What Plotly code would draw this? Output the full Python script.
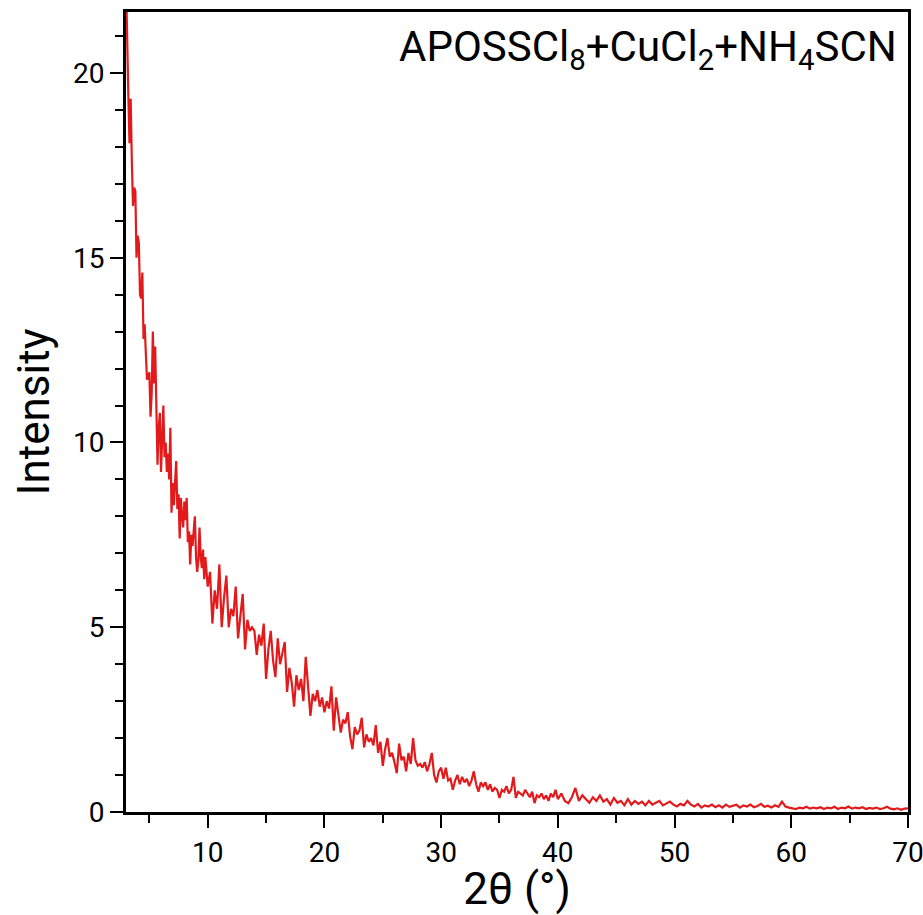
import numpy as np
import plotly.graph_objects as go

# Segment 1: 2theta 3.0 .. 9.9 (step 0.1)
y_seg1 = [22.5, 20.6, 19.4, 18.1, 19.3, 17.6, 16.4, 16.9, 16.8, 15.0,
          15.6, 15.4, 14.0, 13.9, 14.6, 12.8, 13.2, 12.4, 11.7, 11.8,
          11.9, 10.7, 11.3, 13.0, 11.6, 12.6, 11.2, 9.4, 10.4, 10.8,
          9.2, 10.2, 11.0, 9.6, 10.0, 9.2, 9.7, 9.0, 10.4, 8.1,
          8.9, 8.3, 9.0, 9.5, 8.2, 8.6, 7.4, 8.5, 8.0, 7.7,
          8.4, 7.9, 8.5, 7.3, 7.6, 6.7, 7.5, 7.2, 7.6, 8.0,
          6.9, 6.5, 6.8, 7.7, 6.9, 6.6, 7.1, 6.3, 6.9, 6.5]

# Segment 2: 2theta 10.0 .. 39.8 (step 0.2)
y_seg2 = [6.1, 6.5, 5.1, 6.0, 5.5, 6.7, 5.0, 5.8, 6.4, 5.0,
          5.5, 5.3, 6.1, 4.7, 5.4, 5.9, 4.4, 5.2, 4.9, 5.0,
          4.9, 4.25, 4.8, 4.5, 5.1, 3.6, 4.4, 4.9, 4.1, 3.65,
          4.7, 4.0, 4.3, 4.6, 3.25, 3.9, 3.5, 2.85, 3.7, 3.3,
          3.6, 3.0, 4.2, 3.4, 2.6, 3.2, 3.0, 3.3, 2.85, 3.1,
          2.7, 3.0, 2.8, 3.4, 2.2, 3.1, 2.6, 2.15, 2.5, 2.4,
          2.7, 2.05, 1.7, 2.3, 2.1, 2.2, 2.55, 1.75, 2.1, 1.9,
          2.0, 1.8, 2.35, 1.6, 1.9, 1.25, 1.7, 2.0, 1.5, 1.6,
          1.35, 1.05, 1.85, 1.4, 1.5, 1.1, 1.6, 1.3, 2.0, 1.4,
          1.25, 1.3, 1.2, 1.35, 1.1, 1.3, 1.6, 1.0, 0.8, 1.1,
          1.2, 0.9, 1.2, 0.85, 0.9, 0.6, 0.85, 1.0, 0.75, 0.95,
          0.8, 0.9, 0.7, 0.85, 1.1, 0.75, 0.55, 0.8, 0.7, 0.8,
          0.6, 0.75, 0.55, 0.65, 0.6, 0.38, 0.6, 0.55, 0.7, 0.5,
          0.6, 0.95, 0.38, 0.55, 0.5, 0.45, 0.6, 0.5, 0.4, 0.55,
          0.24, 0.45, 0.4, 0.5, 0.35, 0.45, 0.3, 0.5, 0.4, 0.6]

# Segment 3: 2theta 40.0 .. 70.0 (step 0.3)
y_seg3 = [0.35, 0.5, 0.3, 0.24, 0.4, 0.65, 0.3, 0.45, 0.35, 0.25,
          0.4, 0.3, 0.45, 0.28, 0.35, 0.2, 0.38, 0.25, 0.3, 0.18,
          0.35, 0.2, 0.3, 0.22, 0.28, 0.18, 0.3, 0.2, 0.25, 0.3,
          0.18, 0.22, 0.28, 0.2, 0.15, 0.22, 0.18, 0.3, 0.2, 0.15,
          0.22, 0.12, 0.18, 0.15, 0.2, 0.13, 0.18, 0.12, 0.2, 0.14,
          0.17, 0.2, 0.12, 0.18, 0.15, 0.2, 0.13, 0.16, 0.22, 0.14,
          0.17, 0.12, 0.18, 0.14, 0.28, 0.15, 0.12, 0.1, 0.08, 0.12,
          0.1, 0.14, 0.09, 0.12, 0.1, 0.13, 0.08, 0.12, 0.1, 0.14,
          0.08, 0.12, 0.1, 0.15, 0.09, 0.12, 0.1, 0.13, 0.08, 0.11,
          0.09, 0.12, 0.08, 0.1, 0.14, 0.09, 0.07, 0.1, 0.06, 0.09,
          0.1]

x_seg1 = np.linspace(3.0, 9.9, len(y_seg1))
x_seg2 = np.linspace(10.0, 39.8, len(y_seg2))
x_seg3 = np.linspace(40.0, 70.0, len(y_seg3))

two_theta = np.concatenate([x_seg1, x_seg2, x_seg3])
intensity = y_seg1 + y_seg2 + y_seg3

x_ticks = [10, 20, 30, 40, 50, 60, 70]
y_ticks = [0, 5, 10, 15, 20]
label = "APOSSCl<sub>8</sub>+CuCl<sub>2</sub>+NH<sub>4</sub>SCN"

fig = go.Figure()
fig.add_trace(go.Scatter(x=two_theta, y=intensity, mode="lines",
                         line=dict(color="#e31a1c", width=2.2),
                         showlegend=False, hoverinfo="skip"))

axis_common = dict(showline=True, linecolor="black", linewidth=3, mirror=True,
                   ticks="outside", ticklen=13, tickwidth=2.2, tickcolor="black",
                   showgrid=False, zeroline=False, automargin=False,
                   ticklabeloverflow="allow",
                   tickfont=dict(family="Roboto", size=28, color="black"))

fig.update_xaxes(range=[3, 70], tickvals=x_ticks,
                 minor=dict(dtick=5, tick0=0, ticklen=8, tickwidth=2.2, ticks="outside", tickcolor="black"),
                 title=dict(text="2θ (°)", font=dict(family="Roboto", size=44, color="black"), standoff=4),
                 **axis_common)
fig.update_yaxes(range=[0, 21.65], tickvals=y_ticks,
                 minor=dict(dtick=1, tick0=0, ticklen=8, tickwidth=2.2, ticks="outside", tickcolor="black"),
                 title=dict(text="Intensity", font=dict(family="Roboto", size=44, color="black"), standoff=10),
                 **axis_common)

fig.add_annotation(text=label, xref="paper", yref="paper", x=0.988, y=0.99,
                   xanchor="right", yanchor="top", showarrow=False,
                   font=dict(family="Roboto", size=42, color="black"))

fig.update_layout(width=923, height=915, margin=dict(l=126, r=15, t=12, b=103),
                  plot_bgcolor="white", paper_bgcolor="white")

fig.write_html("out.html")
